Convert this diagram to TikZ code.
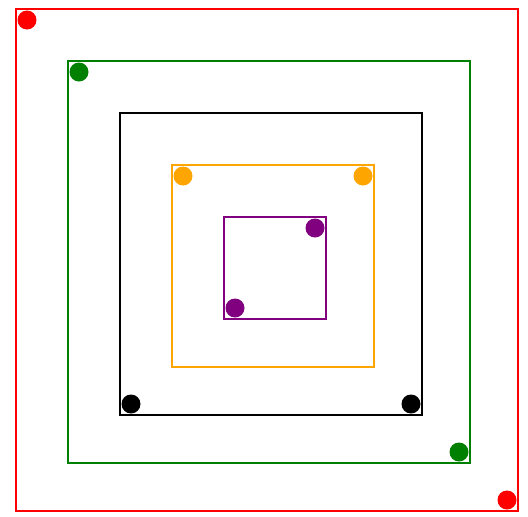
\documentclass[tikz,border=0pt]{standalone}
\definecolor{cgreen}{RGB}{0,128,0}
\definecolor{corange}{RGB}{255,165,0}
\definecolor{cpurple}{RGB}{128,0,128}
\tikzset{sq/.style={line width=1.3pt}, dot/.style={circle, inner sep=0pt, minimum size=19pt}}
\begin{document}
\begin{tikzpicture}[x=1pt,y=-1pt]
\useasboundingbox (0,0) rectangle (528,517);
\draw[sq,red] (16,9) rectangle (518,511);
\draw[sq,cgreen] (68,61) rectangle (470,463);
\draw[sq,black] (120,113) rectangle (422,415);
\draw[sq,corange] (172,165) rectangle (374,367);
\draw[sq,cpurple] (224,217) rectangle (326,319);
\node[dot,fill=red] (r1) at (27,20) {};
\node[dot,fill=red] (r2) at (507,500) {};
\node[dot,fill=cgreen] (g1) at (79,72) {};
\node[dot,fill=cgreen] (g2) at (459,452) {};
\node[dot,fill=black] (k1) at (131,404) {};
\node[dot,fill=black] (k2) at (411,404) {};
\node[dot,fill=corange] (o1) at (183,176) {};
\node[dot,fill=corange] (o2) at (363,176) {};
\node[dot,fill=cpurple] (p1) at (315,228) {};
\node[dot,fill=cpurple] (p2) at (235,308) {};
\end{tikzpicture}
\end{document}
